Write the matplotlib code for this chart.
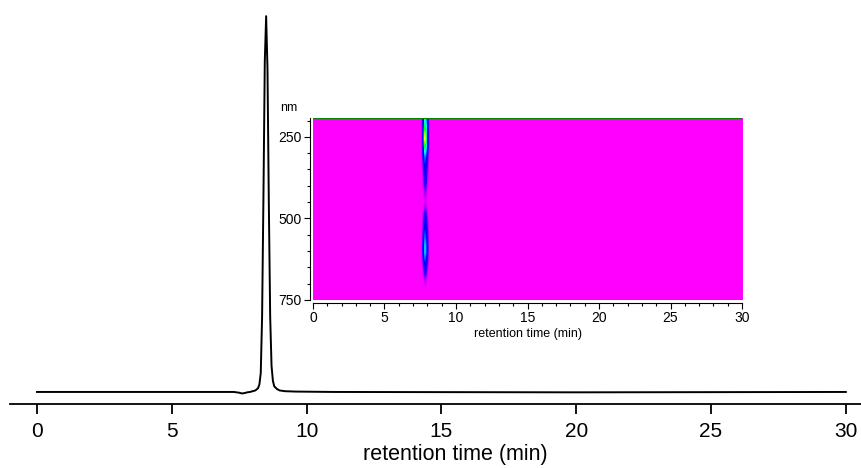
import numpy as np
import matplotlib
matplotlib.use("Agg")
import matplotlib.pyplot as plt
from matplotlib.colors import LinearSegmentedColormap
from matplotlib.ticker import MultipleLocator

plt.rcParams['font.family'] = ['Liberation Sans', 'DejaVu Sans']

# chromatogram (retention time in min, relative absorbance)
rt = [0.0, 5.0, 7.3, 7.5, 7.6, 7.7, 7.8, 7.9, 8.0, 8.1, 8.2, 8.25, 8.3, 8.35, 8.4,
      8.45, 8.5, 8.55, 8.6, 8.65, 8.7, 8.75, 8.8, 8.9, 9.0, 9.2, 9.6, 11.0, 20.0, 30.0]
absorb = [0.0, 0.0, 0.0, -0.002, -0.004, -0.003, -0.001, 0.0, 0.002, 0.004, 0.01, 0.02,
          0.05, 0.2, 0.52, 0.88, 1.0, 0.86, 0.5, 0.2, 0.07, 0.03, 0.015, 0.008, 0.004,
          0.002, 0.001, 0.0, -0.001, 0.0]

# inset: elution profile (min) and spectrum (nm)
elu_t = [7.6, 7.7, 7.8, 7.9, 8.0, 8.1]
elu_v = [0.03, 0.25, 1.0, 0.7, 0.15, 0.02]
wl = [190, 210, 230, 250, 270, 290, 310, 330, 350, 370, 390, 410, 430, 450, 470,
      490, 510, 530, 550, 570, 590, 610, 630, 650, 670, 690, 710, 730, 750]
spec = [0.55, 0.75, 0.9, 1.0, 0.85, 0.55, 0.35, 0.25, 0.17, 0.12, 0.08, 0.04, 0.02,
        0.01, 0.03, 0.08, 0.15, 0.22, 0.3, 0.38, 0.45, 0.45, 0.32, 0.18, 0.08, 0.03,
        0.01, 0.0, 0.0]

fig = plt.figure(figsize=(8.62, 4.68), dpi=100)
ax = fig.add_axes([0.0116, 0.1368, 0.9884, 0.8632])
ax.plot(rt, absorb, color='black', lw=1.4)
ax.set_xlim(-1.0, 30.6)
ax.set_ylim(-0.032, 1.043)
for s in ['left', 'right', 'top']:
    ax.spines[s].set_visible(False)
ax.spines['bottom'].set_linewidth(1.3)
ax.set_yticks([])
ax.set_xticks(range(0, 31, 5))
ax.tick_params(axis='x', direction='out', length=7, width=1.3, labelsize=15, pad=6)
ax.set_xlabel('retention time (min)', fontsize=15.5)
ax.xaxis.set_label_coords(0.523, -0.1)

# inset heatmap
ins = fig.add_axes([0.3631, 0.359, 0.4977, 0.389])
tgrid = np.round(np.arange(0, 30.01, 0.1), 1)
prof = np.zeros(len(tgrid))
for t, v in zip(elu_t, elu_v):
    prof[int(round(t * 10))] = v
img = np.outer(spec, prof)
cmap = LinearSegmentedColormap.from_list('pda', [
    (0.0, '#ff00ff'), (0.05, '#3000ff'), (0.2, '#0000ff'), (0.45, '#00ffff'),
    (0.7, '#00ff00'), (0.85, '#ffff00'), (1.0, '#ff0000')])
ins.imshow(img, extent=[-0.05, 30.05, 750, 190], aspect='auto', cmap=cmap,
           vmin=0, vmax=1.0, interpolation='bilinear', interpolation_stage='data')
ins.axhline(192, color='#008800', lw=1.6)
ins.set_xlim(0, 30)
ins.set_ylim(750, 192)
for s in ['right', 'top']:
    ins.spines[s].set_visible(False)
ins.spines['left'].set_position(('outward', 2))
ins.spines['bottom'].set_position(('outward', 2))
ins.set_xticks(range(0, 31, 5))
ins.xaxis.set_minor_locator(MultipleLocator(1))
ins.set_yticks([250, 500, 750])
ins.yaxis.set_minor_locator(MultipleLocator(50))
ins.tick_params(which='major', direction='out', length=4, width=0.8, labelsize=10, pad=2)
ins.tick_params(which='minor', direction='out', length=2.5, width=0.8)
ins.set_xlabel('retention time (min)', fontsize=9, labelpad=2)
ins.text(-0.037, 1.02, 'nm', transform=ins.transAxes, ha='right', va='bottom', fontsize=9)

fig.savefig('out.png', dpi=100)
